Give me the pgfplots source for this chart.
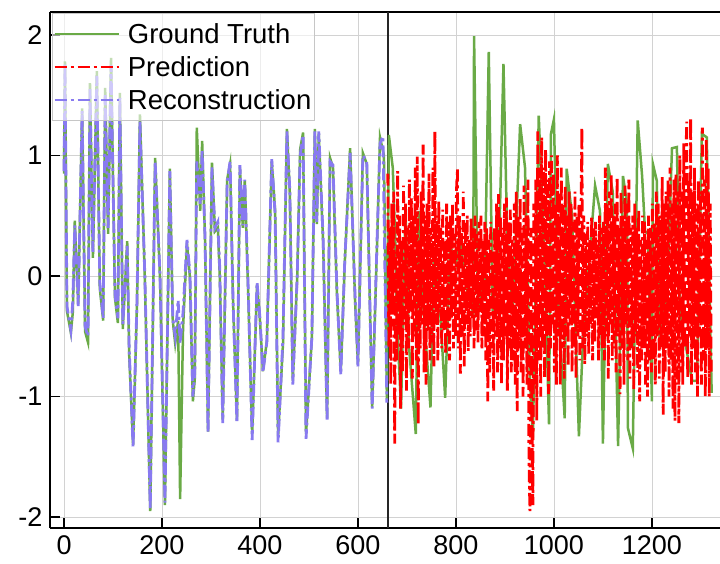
\documentclass[border=0pt]{standalone}
\usepackage{fontspec}
\setmainfont{Liberation Sans}
\usepackage{pgfplots}
\pgfplotsset{compat=1.18}
\definecolor{gtgreen}{RGB}{106,170,70}
\definecolor{predred}{RGB}{255,0,0}
\definecolor{recpurple}{RGB}{136,122,240}
\tikzset{dashdot/.style={dash pattern=on 12pt off 4pt on 3pt off 4pt}}
\begin{document}
\begin{tikzpicture}
\begin{axis}[
  name=ax,
  scale only axis,
  width=670pt, height=516pt,
  xmin=-28.6, xmax=1339, ymin=-2.09, ymax=2.19,
  axis x line*=box, axis y line*=left,
  axis line style={-, line width=2pt, black},
  xtick pos=left, ytick pos=left,
  tick align=inside,
  major tick length=10pt,
  tick style={black, line width=1.5pt},
  grid=major,
  major grid style={line width=0.8pt, color=gray!35},
  xtick={0,200,400,600,800,1000,1200},
  xticklabels={0,200,400,600,800,1000,1200},
  ytick={-2,-1,0,1,2},
  yticklabels={-2,-1,0,1,2},
  ticklabel style={font=\fontsize{27}{31}\selectfont},
  xticklabel style={yshift=-4pt},
  yticklabel style={xshift=-4pt},
  legend style={at={(0,1)}, anchor=north west, xshift=2pt, yshift=-1pt,
    draw=gray!45, line width=0.8pt, fill=white, fill opacity=0.6, text opacity=1,
    font=\fontsize{27.5}{32}\selectfont, inner xsep=1pt, inner ysep=4pt,
    nodes={inner xsep=2pt, inner ysep=5.8pt}},
  legend cell align=left,
  legend image code/.code={\draw[#1] (0pt,0pt) -- (64pt,0pt); \path (70pt,0pt);},
]
\addlegendimage{gtgreen, line width=2.5pt}
\addlegendentry{Ground Truth}
\addlegendimage{predred, line width=2.5pt, dashdot}
\addlegendentry{Prediction}
\addlegendimage{recpurple, line width=2.5pt, dashdot}
\addlegendentry{Reconstruction}

\addplot[black!85, line width=1.8pt, forget plot] coordinates {(661,-2.09) (661,2.19)};

% ground truth
\addplot[gtgreen, line width=2.5pt, forget plot] coordinates {
(0,0.85) (2,1.78) (6,-0.29) (14,-0.47) (18,-0.3) (22,0.46) (29,-0.23) (37,1.39) (43,-0.46) (49,-0.55)
(53,1.60) (59,0.15) (67,1.70) (73,-0.10) (80,-0.37) (84,1.56) (90,0.35) (96,1.81) (104,-0.18) (110,-0.39)
(114,1.52) (120,-0.44) (129,0.29) (133,-0.65) (141,-1.40) (149,-0.23) (155,1.34) (165,-0.02) (176,-1.95) (186,0.98)
(196,-0.02) (206,-1.90) (216,0.89) (222,-0.37) (227,-0.56) (233,-0.37) (237,-1.85) (243,-0.43) (251,0.27) (257,-0.01)
(263,-1.04) (267,-0.85) (271,1.23) (278,0.54) (282,1.12) (288,0.27) (294,-1.29) (302,0.94) (308,0.37) (314,0.40)
(318,-0.01) (324,-1.19) (333,0.80) (339,0.93) (345,-0.21) (353,-1.20) (359,0.90) (365,0.40) (369,0.79) (376,-0.15)
(384,-1.31) (394,-0.07) (400,-0.37) (406,-0.79) (414,-0.54) (424,0.95) (431,0.54) (437,-1.33) (447,-0.56) (455,1.22)
(461,0.68) (467,-0.87) (476,-0.01) (482,1.05) (488,1.19) (494,-1.31) (506,-0.51) (512,1.22) (516,0.43) (520,1.18)
(529,0.26) (537,-1.18) (543,0.98) (549,0.90) (557,-0.15) (565,-0.79) (573,0.10) (584,1.06) (594,-0.20) (600,-0.73)
(610,1.02) (618,0.93) (629,-1.09) (639,0.26) (645,1.15) (653,1.00) (659,-1.02) (663,1.17)
(671,0.90) (676,0.30) (680,-0.40) (688,-1.10) (692,-0.30) (697,0.54) (704,-0.57) (718,-1.31) (724,0.54) (734,-0.29)
(748,-1.09) (755,0.12) (765,-0.10) (778,-1.01) (788,0.26) (800,0.10) (808,0.30) (824,-0.15) (835,-0.30) (837,1.99)
(845,-0.29) (859,-0.02) (867,1.86) (875,-0.29) (889,0.40) (897,1.76) (905,0.26) (916,-0.30) (931,1.26) (941,0.90)
(951,-0.85) (957,-1.34) (969,1.33) (981,0.12) (990,-1.23) (994,1.18) (1000,1.30) (1008,-0.20) (1022,-1.18) (1026,0.89)
(1037,0.50) (1051,-1.33) (1059,-0.56) (1084,0.75) (1094,0.54) (1100,-1.39) (1110,0.93) (1120,0.70) (1131,-1.41) (1141,0.83)
(1149,0.60) (1151,-1.26) (1161,-1.43) (1171,1.29) (1180,0.83) (1186,0.37) (1192,0.35) (1200,-1.04) (1202,0.93) (1210,0.79)
(1216,-0.56) (1231,-0.15) (1241,1.06) (1251,1.07) (1257,-0.30) (1282,-0.87) (1292,-0.87) (1302,1.18) (1312,1.15) (1318,-0.20)
(1322,-0.97)
};

% prediction
\addplot[predred, line width=2.8pt, dashdot, forget plot] coordinates {
(661,0.85) (663,-0.6) (665,0.4) (667,-0.9) (669,0.6) (671,-0.3) (673,0.7) (675,-1.39) (677,0.2) (679,-0.7)
(681,0.87) (683,-0.5) (685,0.5) (687,-1.1) (689,0.3) (691,-0.8) (693,0.75) (695,-0.4) (697,0.6) (699,-0.95)
(701,0.4) (703,-0.6) (705,0.8) (707,-0.3) (709,0.65) (711,-0.85) (713,0.5) (715,-0.5) (717,0.9) (719,-0.7)
(721,0.99) (723,-1.23) (725,0.3) (727,-0.6) (729,0.7) (731,-0.4) (733,1.09) (735,-0.8) (737,0.5) (739,-0.9)
(741,0.6) (743,-0.45) (745,0.85) (747,-0.7) (749,0.4) (751,-0.55) (753,0.9) (755,-0.75) (757,1.2) (759,-0.4)
(761,0.5) (763,-0.7) (765,0.62) (767,-0.3) (769,0.4) (771,-0.6) (773,0.55) (775,-0.45) (777,0.3) (779,-0.65)
(781,0.6) (783,-0.5) (785,0.45) (787,-0.7) (789,0.5) (791,-0.35) (793,0.6) (795,-0.6) (797,0.35) (799,-0.5)
(801,0.7) (803,0.89) (805,-0.6) (807,0.5) (809,-0.81) (811,0.4) (813,-0.5) (815,0.7) (817,-0.75) (819,0.45)
(821,-0.4) (823,0.5) (825,-0.62) (827,0.3) (829,-0.5) (831,0.48) (833,-0.35) (835,0.4) (837,-0.6) (839,0.5)
(841,-0.45) (843,0.35) (845,-0.55) (847,0.45) (849,-0.3) (851,0.5) (853,-0.6) (855,0.3) (857,-0.5) (859,0.45)
(861,-0.7) (863,0.4) (865,-1.04) (867,0.3) (869,-0.8) (871,0.45) (873,-0.6) (875,0.2) (877,-0.95) (879,0.4)
(881,-0.5) (883,0.6) (885,-0.8) (887,0.68) (889,-0.6) (891,0.5) (893,-0.9) (895,0.4) (897,-0.7) (899,0.6)
(901,-0.5) (903,0.65) (905,-0.95) (907,0.45) (909,-0.6) (911,0.55) (913,-0.8) (915,0.3) (917,-0.7) (919,0.6)
(921,-0.9) (923,0.7) (925,-1.12) (927,0.5) (929,-0.6) (931,0.65) (933,-0.8) (935,0.4) (937,-1.0) (939,0.75)
(941,-0.6) (943,0.5) (945,-0.9) (947,0.8) (949,-1.5) (951,-1.95) (953,0.4) (955,-1.2) (957,-1.9) (959,0.6)
(961,-0.9) (963,0.8) (965,-1.2) (967,1.2) (969,-0.7) (971,0.9) (973,-1.0) (975,1.15) (977,-0.6) (979,0.9)
(981,-0.85) (983,1.05) (985,-0.5) (987,0.8) (989,-0.98) (991,0.95) (993,-0.6) (995,1.0) (997,-0.4) (999,0.85)
(1001,-0.8) (1003,0.6) (1005,-0.9) (1007,1.0) (1009,-0.5) (1011,0.7) (1013,-0.9) (1015,0.9) (1017,-0.6) (1019,0.6)
(1021,-0.85) (1023,0.75) (1025,-0.5) (1027,0.5) (1029,-0.75) (1031,0.7) (1033,-0.4) (1035,0.6) (1037,-0.8) (1039,0.45)
(1041,-0.6) (1043,0.7) (1045,-0.85) (1047,0.5) (1049,-0.5) (1051,0.6) (1053,-0.7) (1055,0.4) (1057,1.23) (1059,-0.6)
(1061,0.5) (1063,-0.73) (1065,0.35) (1067,-0.5) (1069,0.45) (1071,-0.65) (1073,0.3) (1075,-0.4) (1077,0.5) (1079,-0.7)
(1081,0.4) (1083,-0.55) (1085,0.45) (1087,-0.35) (1089,0.3) (1091,-0.7) (1093,0.5) (1095,-0.5) (1097,0.4) (1099,-0.6)
(1101,0.45) (1103,-0.7) (1105,0.9) (1107,-0.5) (1109,0.6) (1111,-0.85) (1113,0.7) (1115,-0.4) (1117,0.85) (1119,-0.7)
(1121,0.5) (1123,-0.6) (1125,0.6) (1127,-0.8) (1129,0.82) (1131,-0.5) (1133,0.4) (1135,-0.98) (1137,0.7) (1139,-0.6)
(1141,0.5) (1143,-0.9) (1145,0.75) (1147,-0.4) (1149,0.6) (1151,-0.7) (1153,0.8) (1155,-0.85) (1157,0.4) (1159,-0.6)
(1161,0.5) (1163,-0.95) (1165,0.6) (1167,-0.5) (1169,0.4) (1171,-0.8) (1173,0.55) (1175,-1.04) (1177,0.3) (1179,-0.7)
(1181,0.5) (1183,-0.6) (1185,0.45) (1187,-0.9) (1189,0.3) (1191,-1.0) (1193,0.5) (1195,-0.7) (1197,0.4) (1199,-0.8)
(1201,0.6) (1203,-0.7) (1205,0.45) (1207,-0.9) (1209,0.7) (1211,-0.5) (1213,0.6) (1215,-0.85) (1217,0.5) (1219,-0.6)
(1221,0.82) (1223,-1.15) (1225,0.6) (1227,-0.8) (1229,0.7) (1231,-0.6) (1233,0.8) (1235,-1.0) (1237,0.9) (1239,-0.7)
(1241,0.6) (1243,-1.1) (1245,0.8) (1247,-1.2) (1249,0.85) (1251,-0.9) (1253,0.7) (1255,-1.22) (1257,1.0) (1259,-0.8)
(1261,0.7) (1263,-0.9) (1265,1.1) (1267,-0.6) (1269,0.9) (1271,1.28) (1273,-0.85) (1275,0.8) (1277,-0.5) (1279,1.31)
(1281,-0.9) (1283,0.7) (1285,-0.6) (1287,0.9) (1289,-0.8) (1291,0.6) (1293,-1.0) (1295,0.8) (1297,-0.5) (1299,0.7)
(1301,-0.9) (1303,1.23) (1305,-0.7) (1307,0.8) (1309,-1.0) (1311,1.14) (1313,-0.6) (1315,0.9) (1317,-1.0) (1319,0.6) (1321,-0.8)
};

% reconstruction
\addplot[recpurple, line width=2.8pt, dashdot, forget plot] coordinates {
(0,0.87) (2,1.76) (6,-0.25) (14,-0.45) (18,-0.2) (22,0.42) (29,-0.25) (37,1.37) (43,-0.42) (49,-0.5)
(53,1.55) (59,0.2) (67,1.66) (73,-0.05) (80,-0.35) (84,1.5) (90,0.4) (96,1.75) (104,-0.15) (110,-0.35)
(114,1.48) (120,-0.4) (129,0.25) (133,-0.6) (141,-1.42) (149,-0.2) (155,1.28) (165,0.0) (176,-1.93) (186,0.95)
(196,0.0) (206,-1.88) (216,0.87) (222,-0.35) (227,-0.5) (233,-0.2) (237,-0.56) (243,-0.3) (251,0.3) (257,0.02)
(263,-1.0) (267,-0.8) (271,0.95) (278,0.6) (282,1.05) (288,0.3) (294,-1.3) (302,0.9) (308,0.4) (314,0.45)
(318,0.05) (324,-1.22) (333,0.78) (339,0.95) (345,-0.2) (353,-1.22) (359,0.92) (365,0.42) (369,0.8) (376,-0.1)
(384,-1.36) (394,-0.05) (400,-0.35) (406,-0.8) (414,-0.55) (424,0.97) (431,0.5) (437,-1.38) (447,-0.5) (455,1.2)
(461,0.7) (467,-0.9) (476,0.0) (482,1.0) (488,1.17) (494,-1.35) (506,-0.5) (512,1.2) (516,0.45) (520,1.2)
(529,0.3) (537,-1.2) (543,0.95) (549,0.92) (557,-0.1) (565,-0.82) (573,0.12) (584,1.02) (594,-0.15) (600,-0.75)
(610,1.0) (618,0.95) (629,-1.1) (639,0.3) (645,1.1) (651,1.16) (659,-1.05)
};
\end{axis}
\pgfresetboundingbox
\path[use as bounding box] ([xshift=-50pt,yshift=-35pt]ax.south west) rectangle ([yshift=12pt]ax.north east);
\end{tikzpicture}
\end{document}
